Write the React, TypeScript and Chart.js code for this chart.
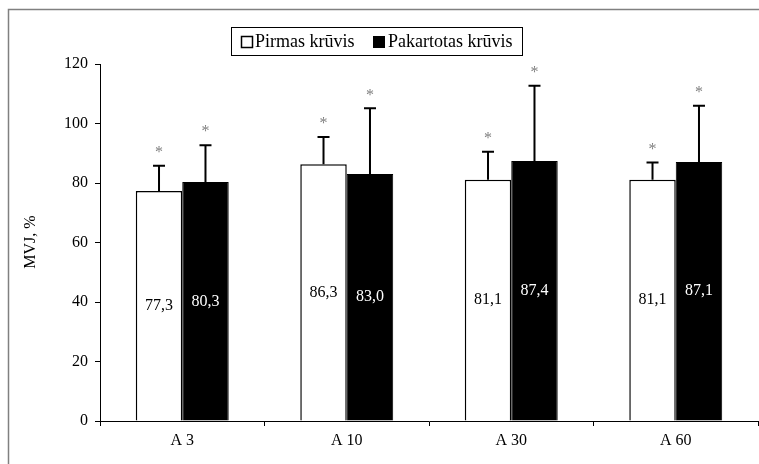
import React, { useEffect, useRef } from 'react';
import { Chart, registerables } from 'chart.js';

Chart.register(...registerables);

const categories = ['A 3', 'A 10', 'A 30', 'A 60'];
const seriesNames = ['Pirmas krūvis', 'Pakartotas krūvis'];
const firstLoad = [77.3, 86.3, 81.1, 81.1];
const repeatLoad = [80.3, 83.0, 87.4, 87.1];
const firstLoadSD = [8.5, 9.2, 9.4, 5.8];
const repeatLoadSD = [12.4, 22.1, 25.3, 18.9];
const yMin = 0;
const yMax = 120;
const yStep = 20;
const yTitle = 'MVJ, %';

const FONT = '"Liberation Serif", "Times New Roman", serif';

const fmt = (v: number) => v.toFixed(1).replace('.', ',');

const overlayPlugin = {
  id: 'overlay',
  afterDatasetsDraw(chart: any) {
    const ctx = chart.ctx;
    const yScale = chart.scales.y;
    const sds = [firstLoadSD, repeatLoadSD];
    ctx.save();
    chart.data.datasets.forEach((ds: any, di: number) => {
      const meta = chart.getDatasetMeta(di);
      meta.data.forEach((bar: any, i: number) => {
        const v = ds.data[i];
        const top = yScale.getPixelForValue(v + sds[di][i]);
        const x = bar.x;
        // error bar
        ctx.strokeStyle = '#000';
        ctx.lineWidth = 2;
        ctx.beginPath();
        ctx.moveTo(x, bar.y);
        ctx.lineTo(x, top);
        ctx.moveTo(x - 6, top);
        ctx.lineTo(x + 6, top);
        ctx.stroke();
        // asterisk
        ctx.fillStyle = '#808080';
        ctx.font = `16px ${FONT}`;
        ctx.textAlign = 'center';
        ctx.textBaseline = 'middle';
        ctx.fillText('*', x, top - 13);
        // value label
        ctx.fillStyle = di === 0 ? '#000' : '#fff';
        ctx.font = `16px ${FONT}`;
        ctx.fillText(fmt(v), x, (bar.y + bar.base) / 2);
      });
    });
    ctx.restore();
  },
  afterDraw(chart: any) {
    const ctx = chart.ctx;
    ctx.save();
    // outer frame
    ctx.strokeStyle = '#808080';
    ctx.lineWidth = 1.5;
    ctx.beginPath();
    ctx.moveTo(8.5, 470);
    ctx.lineTo(8.5, 9.5);
    ctx.lineTo(770, 9.5);
    ctx.stroke();
    // y axis title
    ctx.fillStyle = '#000';
    ctx.font = `16px ${FONT}`;
    ctx.textAlign = 'center';
    ctx.textBaseline = 'middle';
    ctx.translate(31, 242);
    ctx.rotate(-Math.PI / 2);
    ctx.fillText(yTitle, 0, 0);
    ctx.setTransform(1, 0, 0, 1, 0, 0);
    // legend
    const lx = 231, ly = 27, lw = 291, lh = 28;
    ctx.strokeStyle = '#000';
    ctx.lineWidth = 1;
    ctx.fillStyle = '#fff';
    ctx.fillRect(lx, ly, lw, lh);
    ctx.strokeRect(lx + 0.5, ly + 0.5, lw, lh);
    ctx.font = `18px ${FONT}`;
    ctx.textAlign = 'left';
    ctx.textBaseline = 'middle';
    const cy = ly + lh / 2 + 1;
    // item 1
    ctx.lineWidth = 1.5;
    ctx.strokeRect(241.5, cy - 5.5, 11, 11);
    ctx.fillStyle = '#000';
    ctx.fillText(seriesNames[0], 255, cy);
    // item 2
    ctx.fillRect(373, cy - 6, 12, 12);
    ctx.fillText(seriesNames[1], 388, cy);
    ctx.restore();
  },
};

export default function App() {
  const ref = useRef<HTMLCanvasElement | null>(null);
  useEffect(() => {
    if (!ref.current) return;
    const chart = new Chart(ref.current, {
      type: 'bar',
      data: {
        labels: categories,
        datasets: [
          {
            label: seriesNames[0],
            data: firstLoad,
            backgroundColor: '#fff',
            borderColor: '#000',
            borderWidth: 1.5,
            categoryPercentage: 0.565,
            barPercentage: 1,
          },
          {
            label: seriesNames[1],
            data: repeatLoad,
            backgroundColor: '#000',
            borderColor: '#000',
            borderWidth: 1,
            categoryPercentage: 0.565,
            barPercentage: 1,
          },
        ],
      },
      options: {
        animation: false,
        responsive: false,
        maintainAspectRatio: false,
        layout: { padding: { left: 0, right: 1, top: 64, bottom: 0 } },
        plugins: {
          legend: { display: false },
          tooltip: { enabled: false },
          title: { display: false },
        },
        scales: {
          x: {
            offset: true,
            grid: {
              offset: true,
              drawOnChartArea: false,
              drawTicks: true,
              tickLength: 5,
              color: '#000',
            },
            border: { color: '#000', width: 1 },
            ticks: { color: '#000', font: { family: FONT, size: 16 }, padding: 5 },
            afterFit(scale: any) {
              scale.height = 43;
            },
          },
          y: {
            min: yMin,
            max: yMax,
            grid: {
              drawOnChartArea: false,
              drawTicks: true,
              tickLength: 5,
              color: '#000',
            },
            border: { color: '#000', width: 1 },
            ticks: {
              stepSize: yStep,
              color: '#000',
              font: { family: FONT, size: 16 },
              padding: 7,
            },
            afterFit(scale: any) {
              scale.width = 100;
            },
          },
        },
      },
      plugins: [overlayPlugin],
    });
    return () => chart.destroy();
  }, []);
  return (
    <div style={{ position: 'absolute', left: 0, top: 0, width: 759, height: 464, background: '#fff' }}>
      <canvas ref={ref} width={759} height={464} style={{ display: 'block' }} />
    </div>
  );
}
